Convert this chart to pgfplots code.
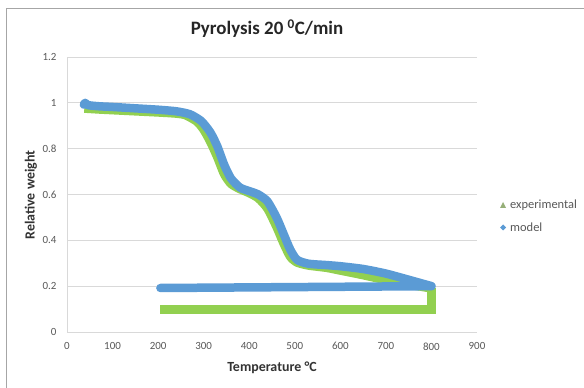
\documentclass[border=0pt]{standalone}
\usepackage{pgfplots}
\pgfplotsset{compat=1.18}
\usepackage{fontspec}
\setmainfont{Carlito}
\definecolor{blueM}{RGB}{91,155,213}
\definecolor{greenE}{RGB}{146,208,80}
\definecolor{legG}{RGB}{150,175,120}
\definecolor{txt}{RGB}{89,89,89}
\definecolor{gridc}{RGB}{217,217,217}
\begin{document}
\begin{tikzpicture}
\useasboundingbox (0bp,0bp) rectangle (584bp,388bp);
\fill[white] (0bp,0bp) rectangle (584bp,388bp);
\draw[gray!70, line width=0.8bp] (6bp,-5bp) rectangle (600bp,380bp);
\begin{axis}[
  at={(67bp,56bp)}, anchor=south west,
  scale only axis, width=410bp, height=275bp,
  xmin=0, xmax=900, ymin=0, ymax=1.2,
  xtick={0,100,...,900}, ytick={0,0.2,...,1.2},
  yticklabels={0,0.2,0.4,0.6,0.8,1,1.2},
  axis line style={draw=none},
  major tick length=0pt,
  ymajorgrids, grid style={gridc, line width=0.8bp},
  tick label style={font=\fontsize{11}{13}\selectfont, text=txt},
  xticklabel style={yshift=-7bp},
  yticklabel style={xshift=-7bp},
  /pgf/number format/assume math mode=true,
  clip=false,
]
\draw[gridc, line width=0.8bp] (axis cs:0,0) -- (axis cs:0,1.2);
\draw[gridc, line width=0.8bp] (axis cs:0,0) -- (axis cs:900,0);
\addplot[greenE, line width=8.5bp, line join=round, line cap=butt, smooth, tension=0.4] coordinates {
(38,0.975) (70,0.971) (100,0.968) (150,0.963) (200,0.958) (240,0.953) (260,0.946) (285,0.918) (300,0.882) (315,0.828) (330,0.762) (345,0.688) (360,0.646) (380,0.623) (400,0.606) (420,0.583) (440,0.538) (460,0.458) (475,0.388) (490,0.328) (505,0.303) (530,0.290) (570,0.280) (600,0.268) (650,0.248) (700,0.226) (750,0.207) (800,0.190)
};
\addplot[greenE, line width=8.5bp, line join=miter] coordinates {(800,0.190) (800,0.098) (205,0.098)};
\addplot[blueM, line width=8.5bp, line join=round, line cap=round, smooth, tension=0.4] coordinates {
(37,0.992) (40,1.000) (46,0.990) (70,0.985) (100,0.982) (150,0.976) (200,0.970) (240,0.963) (270,0.950) (295,0.920) (315,0.870) (330,0.810) (345,0.730) (360,0.670) (380,0.630) (400,0.615) (420,0.600) (440,0.570) (460,0.500) (475,0.430) (490,0.360) (505,0.315) (530,0.298) (570,0.292) (600,0.287) (650,0.275) (700,0.255) (750,0.228) (795,0.203) (800,0.200)
};
\addplot[blueM, line width=8.5bp, line cap=round] coordinates {(800,0.200) (205,0.192)};
\end{axis}
% legend
\fill[legG] (500bp,180bp) -- (506bp,180bp) -- (503bp,186bp) -- cycle;
\node[anchor=west, font=\fontsize{12.5}{15}\selectfont, text=txt, inner sep=0] at (510bp,183bp) {experimental};
\fill[blueM] (503bp,163.5bp) -- (506bp,160.5bp) -- (503bp,157.5bp) -- (500bp,160.5bp) -- cycle;
\node[anchor=west, font=\fontsize{12.5}{15}\selectfont, text=txt, inner sep=0] at (510bp,160.5bp) {model};
% titles
\node[font=\fontsize{19}{22}\selectfont\bfseries, text=black!85] at (267bp,359bp) {Pyrolysis 20 \textsuperscript{0}C/min};
\node[font=\fontsize{14}{16}\selectfont\bfseries, text=black!80] at (272bp,20bp) {Temperature °C};
\node[font=\fontsize{14}{16}\selectfont\bfseries, text=black!80, rotate=90] at (31bp,193bp) {Relative weight};
\end{tikzpicture}
\end{document}
